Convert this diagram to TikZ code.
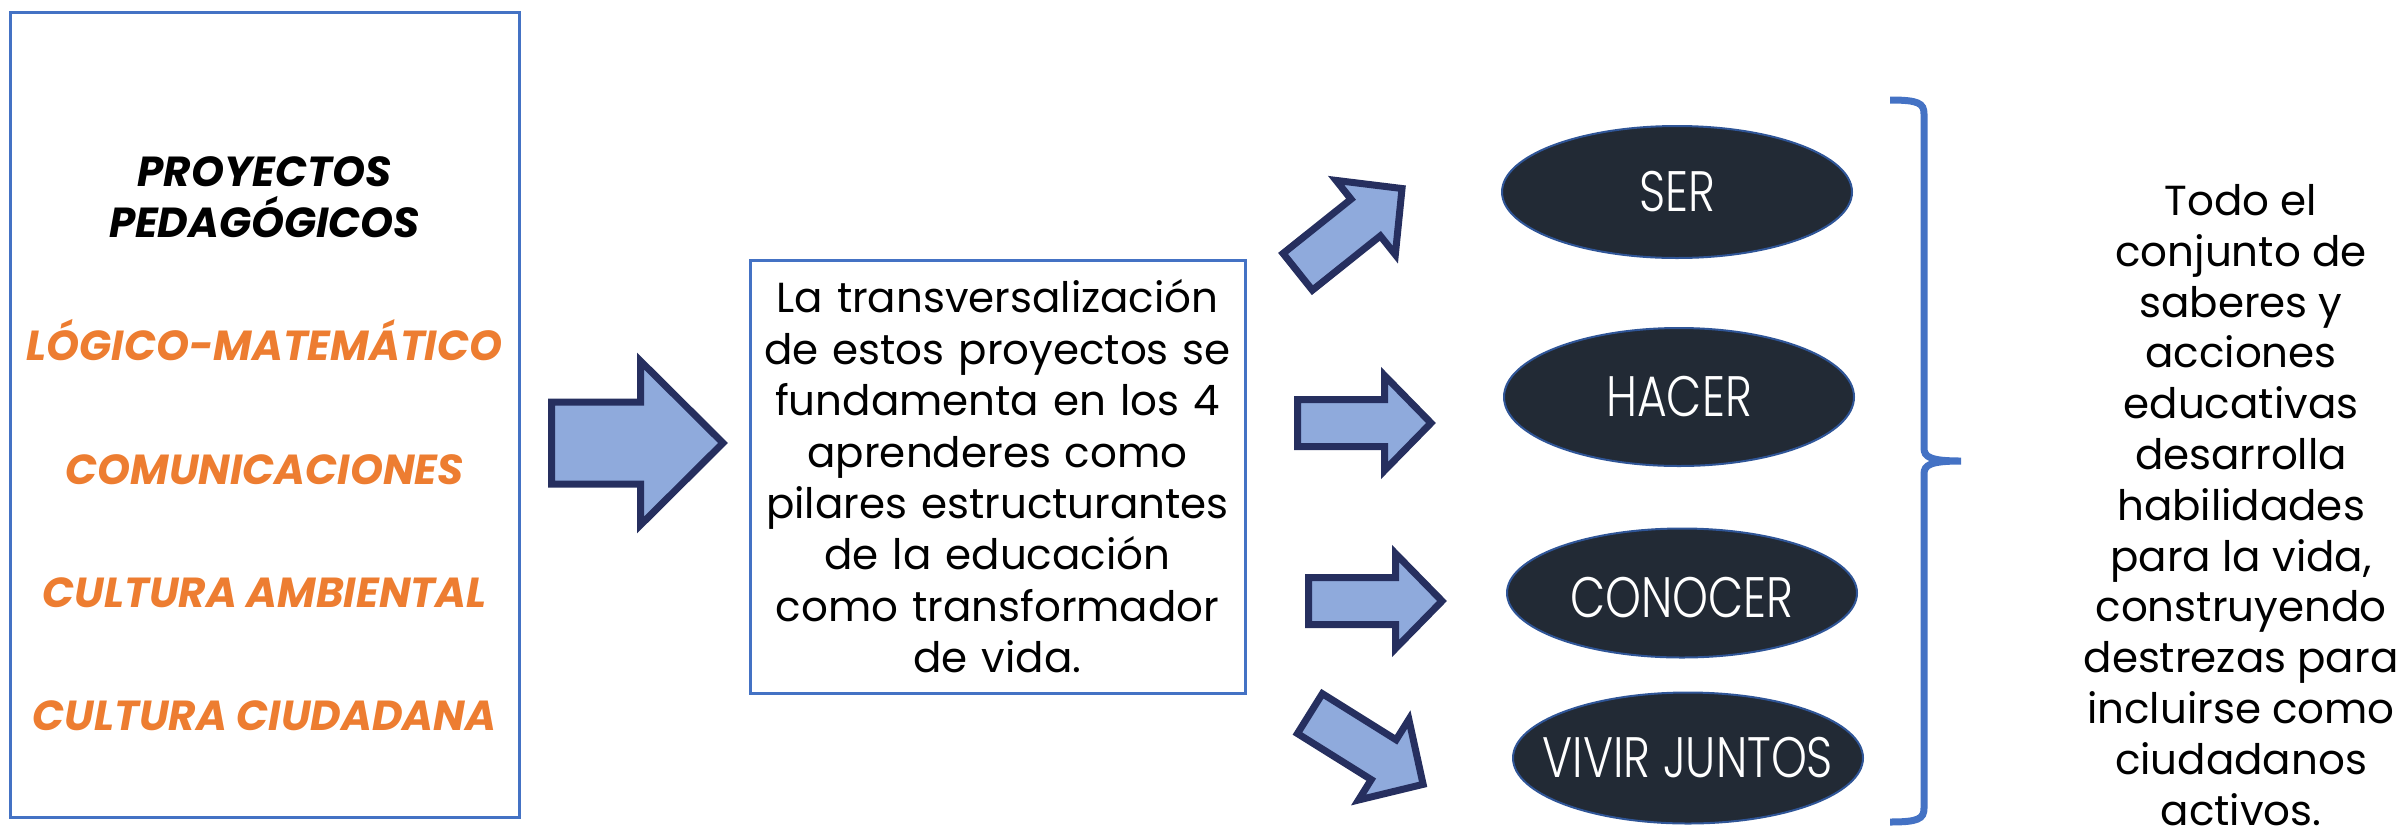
\documentclass[tikz,border=0pt]{standalone}
\usepackage{fontspec}
\setmainfont{Poppins}
\newfontfamily\ovalfont[FakeStretch=0.8]{Poppins Light}
\usepackage{xcolor}
\usepackage{tikz}
\usetikzlibrary{shapes.geometric}
\definecolor{boxblue}{HTML}{4472C4}
\definecolor{arrowfill}{HTML}{8FAADC}
\definecolor{arrowline}{HTML}{262F5F}
\definecolor{ovalfill}{HTML}{222A35}
\definecolor{ovalline}{HTML}{2F5597}
\definecolor{naranja}{HTML}{ED7D31}
\tikzset{
  blockarrow/.style={fill=arrowfill,draw=arrowline,line width=7pt,line join=miter},
  oval/.style={ellipse,fill=ovalfill,draw=ovalline,line width=2pt,
    minimum width=350pt,minimum height=132pt,inner sep=0pt},
  ovaltext/.style={text=white,font=\ovalfont\fontsize{57}{60}\selectfont},
  titulo/.style={anchor=base,font=\bfseries\itshape\fontsize{42}{50}\selectfont},
  proyecto/.style={titulo,text=naranja}
}
% block arrow: tail point, angle, length, shaft half, head start, head half
\newcommand{\flecha}[6]{%
  \begin{scope}[shift={#1},rotate=#2]
    \draw[blockarrow] (0,-#4) -- (#5,-#4) -- (#5,-#6) -- (#3,0)
      -- (#5,#6) -- (#5,#4) -- (0,#4) -- cycle;
  \end{scope}}

\begin{document}
\begin{tikzpicture}[x=1pt,y=-1pt]
\useasboundingbox (0,0) rectangle (2397,839);
% left box with the projects
\node[draw=boxblue,line width=3pt,minimum width=509pt,minimum height=805pt] (proyectos) at (264.5,414.5) {};
\node[titulo] (tit1) at (264.5,186) {PROYECTOS};
\node[titulo] (tit2) at (264.5,237) {PEDAGÓGICOS};
\node[proyecto] (logico) at (264.5,360) {LÓGICO-MATEMÁTICO};
\node[proyecto] (comunic) at (264.5,484) {COMUNICACIONES};
\node[proyecto] (ambiental) at (264.5,607) {CULTURA AMBIENTAL};
\node[proyecto] (ciudadana) at (264.5,730) {CULTURA CIUDADANA};
% middle box
\node[draw=boxblue,line width=3pt,minimum width=495pt,minimum height=433pt,
  text width=480pt,align=center,inner sep=0pt,font=\fontsize{42}{51.4}\selectfont]
  (pilares) at (997.5,476.5) {La transversalización\\ de estos proyectos se\\
  fundamenta en los 4\\ aprenderes como\\ pilares estructurantes\\
  de la educación\\ como transformador\\ de vida.};
% the four aprenderes
\node[oval] (ser) at (1677,192) {};
\node[oval,minimum height=138pt] (hacer) at (1679,397) {};
\node[oval,minimum height=129pt] (conocer) at (1682,593) {};
\node[oval,minimum height=131pt] (vivir) at (1688,758) {};
\node[ovaltext] (sertxt) at (ser) {SER};
\node[ovaltext] (hacertxt) at (hacer) {HACER};
\node[ovaltext] (conocertxt) at ([yshift=-5pt]conocer.center) {CONOCER};
\node[ovaltext] (vivirtxt) at (vivir) {VIVIR JUNTOS};
% arrows
\flecha{(551.5,443)}{0}{171.5}{41}{89}{82}
\flecha{(1297.7,271.8)}{38.6}{133.5}{23.5}{87}{47.5}
\flecha{(1297.5,423)}{0}{133.5}{23.5}{87}{47.5}
\flecha{(1308.5,601)}{0}{133.5}{23.5}{87}{47.5}
\flecha{(1309.9,713.6)}{-32}{133.5}{23.5}{87}{47.5}
% brace
\draw[boxblue,line width=7pt] (1890,100) .. controls (1918,100) and (1924,103) .. (1924,114)
  -- (1924,448) .. controls (1924,457) and (1930,461) .. (1961,461)
  .. controls (1930,461) and (1924,465) .. (1924,474)
  -- (1924,808) .. controls (1924,819) and (1918,822) .. (1890,822);
\node[align=center,inner sep=0pt,font=\fontsize{42}{50.8}\selectfont] (saberes) at (2241,505)
  {Todo el\\ conjunto de\\ saberes y\\ acciones\\ educativas\\ desarrolla\\ habilidades\\
  para la vida,\\ construyendo\\ destrezas para\\ incluirse como\\ ciudadanos\\ activos.};
\end{tikzpicture}
\end{document}
